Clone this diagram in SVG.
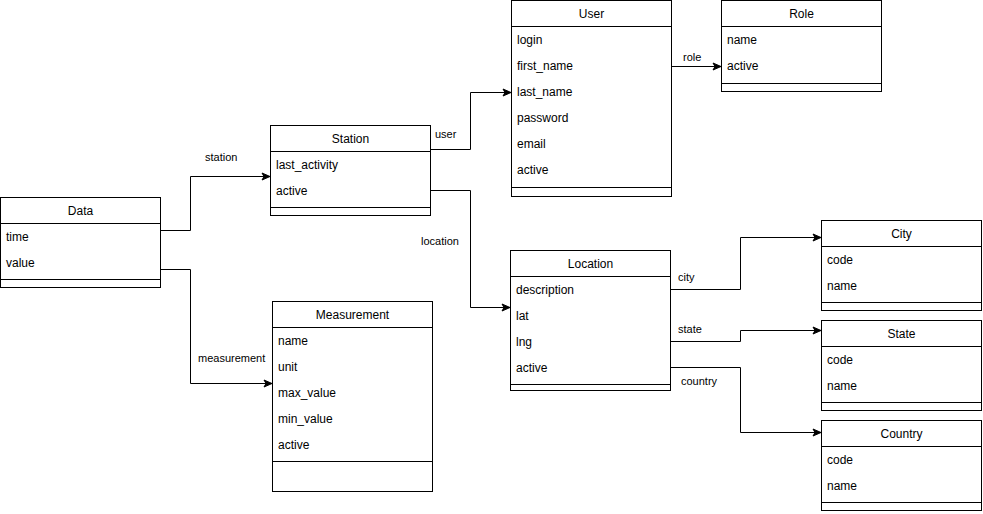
<svg xmlns="http://www.w3.org/2000/svg" width="983" height="514" viewBox="0 0 983 514">
<defs>
<style>
.box{fill:#fff;stroke:#000;stroke-width:1}
.ln{stroke:#000;stroke-width:1;fill:none}
.t{font-family:"Liberation Sans",Arial,Helvetica,sans-serif;font-size:12px;fill:#000}
.h{text-anchor:middle}
.el{font-family:"Liberation Sans",Arial,Helvetica,sans-serif;font-size:11px;fill:#000}
.c{stroke:#000;stroke-width:1;fill:none;marker-end:url(#arr)}
</style>
<marker id="arr" markerUnits="userSpaceOnUse" markerWidth="10" markerHeight="10" viewBox="0 0 10 10" refX="9" refY="5" orient="auto">
<path d="M1,1.5 L9,5 L1,8.5 L3,5 Z" fill="#000" stroke="#000" stroke-width="1"/>
</marker>
</defs>
<rect width="983" height="514" fill="#fff"/>
<g id="connectors">
<path class="c" d="M160.5,230.5 H190.5 V176.5 H270"/>
<path class="c" d="M160.5,269.5 H190.5 V383.5 H272"/>
<path class="c" d="M430.5,149.5 H470.5 V92.5 H511"/>
<path class="c" d="M430.5,190.5 H470.5 V307.5 H510"/>
<path class="c" d="M671.5,66.5 H721"/>
<path class="c" d="M670.5,289.5 H740.5 V237.5 H821"/>
<path class="c" d="M670.5,341.5 H740.5 V330.5 H821"/>
<path class="c" d="M670.5,367.5 H740.5 V432.5 H821"/>
<text class="el" x="205" y="161">station</text>
<text class="el" x="198" y="362">measurement</text>
<text class="el" x="435" y="138">user</text>
<text class="el" x="421" y="245">location</text>
<text class="el" x="683" y="61">role</text>
<text class="el" x="678" y="281">city</text>
<text class="el" x="678" y="333">state</text>
<text class="el" x="681" y="385">country</text>
</g>
<g id="data">
<rect class="box" x="0.5" y="197.5" width="160" height="90"/>
<path class="ln" d="M0.5,223.5 H160.5 M0.5,279.5 H160.5"/>
<text class="t h" x="80.5" y="215">Data</text>
<text class="t" x="6" y="241">time</text>
<text class="t" x="6" y="267">value</text>
</g>
<g id="station">
<rect class="box" x="270.5" y="125.5" width="160" height="90"/>
<path class="ln" d="M270.5,151.5 H430.5 M270.5,207.5 H430.5"/>
<text class="t h" x="350.5" y="143">Station</text>
<text class="t" x="276" y="169">last_activity</text>
<text class="t" x="276" y="195">active</text>
</g>
<g id="user">
<rect class="box" x="511.5" y="0.5" width="160" height="196"/>
<path class="ln" d="M511.5,26.5 H671.5 M511.5,187.5 H671.5"/>
<text class="t h" x="591.5" y="18">User</text>
<text class="t" x="517" y="44">login</text>
<text class="t" x="517" y="70">first_name</text>
<text class="t" x="517" y="96">last_name</text>
<text class="t" x="517" y="122">password</text>
<text class="t" x="517" y="148">email</text>
<text class="t" x="517" y="174">active</text>
</g>
<g id="role">
<rect class="box" x="721.5" y="0.5" width="160" height="91"/>
<path class="ln" d="M721.5,26.5 H881.5 M721.5,83.5 H881.5"/>
<text class="t h" x="801.5" y="18">Role</text>
<text class="t" x="727" y="44">name</text>
<text class="t" x="727" y="70">active</text>
</g>
<g id="location">
<rect class="box" x="510.5" y="250.5" width="160" height="140"/>
<path class="ln" d="M510.5,276.5 H670.5 M510.5,384.5 H670.5"/>
<text class="t h" x="590.5" y="268">Location</text>
<text class="t" x="516" y="294">description</text>
<text class="t" x="516" y="320">lat</text>
<text class="t" x="516" y="346">lng</text>
<text class="t" x="516" y="372">active</text>
</g>
<g id="city">
<rect class="box" x="821.5" y="220.5" width="160" height="90"/>
<path class="ln" d="M821.5,246.5 H981.5 M821.5,302.5 H981.5"/>
<text class="t h" x="901.5" y="238">City</text>
<text class="t" x="827" y="264">code</text>
<text class="t" x="827" y="290">name</text>
</g>
<g id="state">
<rect class="box" x="821.5" y="320.5" width="160" height="90"/>
<path class="ln" d="M821.5,346.5 H981.5 M821.5,402.5 H981.5"/>
<text class="t h" x="901.5" y="338">State</text>
<text class="t" x="827" y="364">code</text>
<text class="t" x="827" y="390">name</text>
</g>
<g id="country">
<rect class="box" x="821.5" y="420.5" width="160" height="90"/>
<path class="ln" d="M821.5,446.5 H981.5 M821.5,502.5 H981.5"/>
<text class="t h" x="901.5" y="438">Country</text>
<text class="t" x="827" y="464">code</text>
<text class="t" x="827" y="490">name</text>
</g>
<g id="measurement">
<rect class="box" x="272.5" y="301.5" width="160" height="190"/>
<path class="ln" d="M272.5,327.5 H432.5 M272.5,461.5 H432.5"/>
<text class="t h" x="352.5" y="319">Measurement</text>
<text class="t" x="278" y="345">name</text>
<text class="t" x="278" y="371">unit</text>
<text class="t" x="278" y="397">max_value</text>
<text class="t" x="278" y="423">min_value</text>
<text class="t" x="278" y="449">active</text>
</g>
</svg>
